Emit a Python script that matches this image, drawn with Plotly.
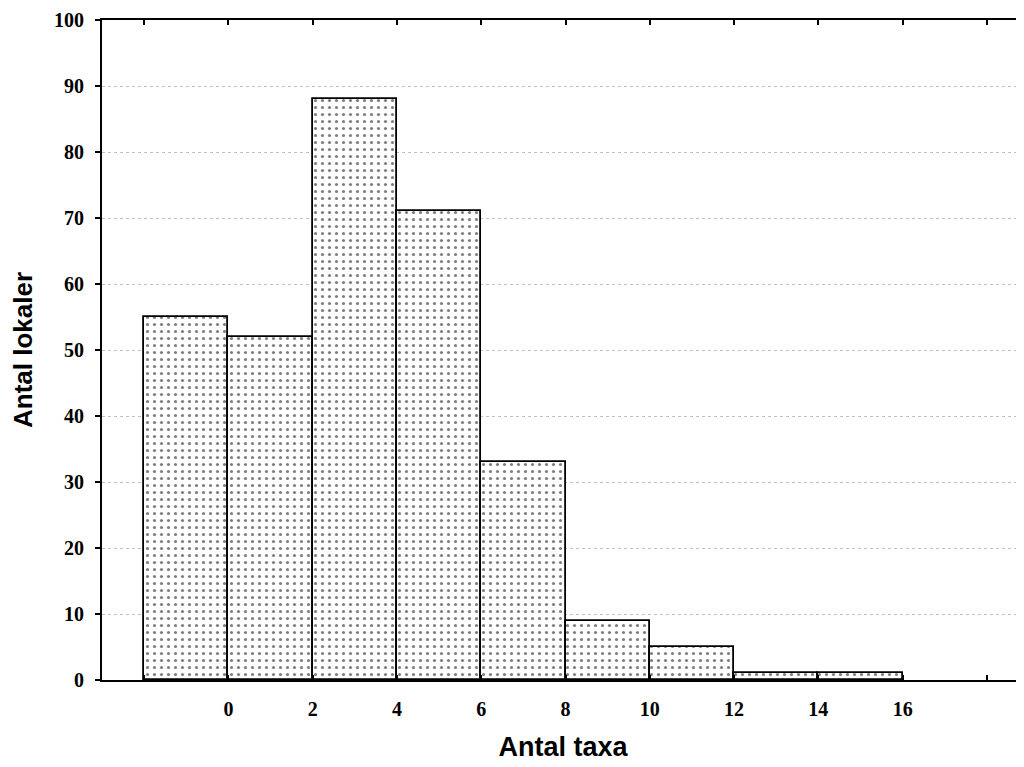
import plotly.graph_objects as go

bin_left = [-2, 0, 2, 4, 6, 8, 10, 12, 14]
bin_width = 2
counts = [55, 52, 88, 71, 33, 9, 5, 1, 1]
x_tickvals = [-2, 0, 2, 4, 6, 8, 10, 12, 14, 16, 18]
x_ticktext = ["", "0", "2", "4", "6", "8", "10", "12", "14", "16", ""]
y_tickvals = [0, 10, 20, 30, 40, 50, 60, 70, 80, 90, 100]

centers = [b + bin_width / 2 for b in bin_left]

fig = go.Figure()
fig.add_trace(go.Bar(
    x=centers, y=counts, width=[bin_width] * len(counts),
    marker=dict(
        color="white",
        line=dict(color="black", width=1.8),
        pattern=dict(shape=".", fgcolor="black", bgcolor="white", size=7, solidity=0.16),
    ),
    showlegend=False,
))

# page body has an 8px margin, so compensate to place the plot area
fig.update_layout(
    width=1024, height=767,
    margin=dict(l=94, r=8, t=12, b=95),
    paper_bgcolor="white", plot_bgcolor="white",
    bargap=0,
)
fig.update_xaxes(
    range=[-3, 18.88], tickvals=x_tickvals, ticktext=x_ticktext,
    ticks="inside", ticklen=5, tickwidth=2, tickcolor="black",
    showline=True, linecolor="black", linewidth=2, mirror="ticks",
    showgrid=False, zeroline=False, automargin=False,
    tickfont=dict(family="Liberation Serif", size=20, color="black", weight="bold"),
    ticklabelstandoff=10,
    title=dict(text="Antal taxa", font=dict(family="Liberation Sans", size=27, color="black", weight="bold"), standoff=18),
)
fig.update_yaxes(
    range=[0, 100], tickvals=y_tickvals,
    ticks="outside", ticklen=5, tickwidth=2, tickcolor="black",
    showline=True, linecolor="black", linewidth=2, mirror=False,
    showgrid=True, gridcolor="#c0c0c0", gridwidth=1, griddash="dot",
    zeroline=False, automargin=False,
    tickfont=dict(family="Liberation Serif", size=20, color="black", weight="bold"),
    ticklabelstandoff=7,
    title=dict(text="Antal lokaler", font=dict(family="Liberation Sans", size=26, color="black", weight="bold"), standoff=16),
)

fig.write_html("out.html")
